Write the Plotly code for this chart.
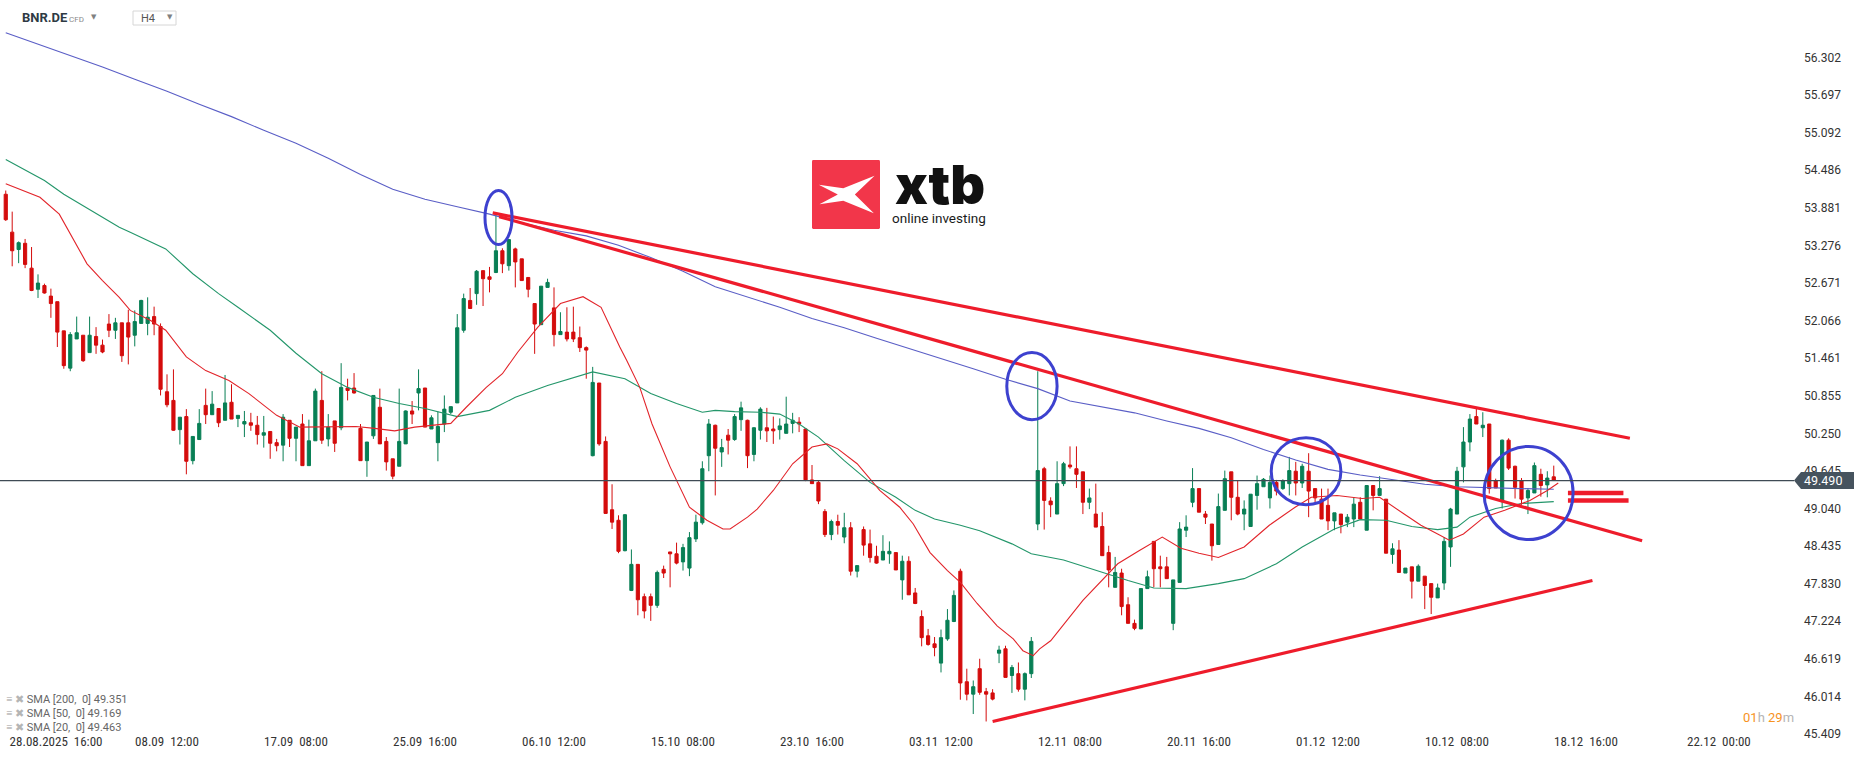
import base64
import plotly.graph_objects as go

# ---- candles (H4), index 0 = 28.08.2025 16:00 ----
candle_index = list(range(-5, 236))

opens = [
    54.10, 53.49, 53.21, 53.31, 52.91, 52.57, 52.63, 52.46, 52.37, 51.90,
    51.30, 51.77, 51.83, 51.55, 51.81, 51.67, 52.01, 51.91, 52.03, 52.03,
    51.83, 52.02, 52.02, 52.13, 51.97, 50.92, 50.78, 50.31, 50.52, 49.81,
    50.15, 50.70, 50.55, 50.65, 50.46, 50.75, 50.49, 50.40, 50.42, 50.38,
    50.22, 50.28, 50.10, 50.06, 50.46, 50.17, 50.40, 49.73, 50.13, 50.78,
    50.16, 50.45, 50.34, 50.98, 50.98, 50.33, 49.81, 50.21, 50.67, 50.12,
    49.84, 49.72, 50.08, 50.61, 50.90, 50.98, 50.32, 50.10, 50.40, 50.59,
    50.74, 51.91, 52.39, 52.50, 52.87, 52.77, 52.84, 53.19, 52.95, 53.22,
    53.06, 52.76, 52.34, 52.00, 52.60, 52.27, 51.84, 51.88, 51.88, 51.79,
    51.63, 49.89, 51.06, 50.12, 49.02, 48.85, 48.36, 47.72, 48.14, 47.62,
    47.62, 47.48, 48.06, 48.34, 48.31, 48.18, 48.08, 48.55, 48.81, 49.89,
    50.38, 49.95, 50.22, 50.15, 50.47, 50.46, 49.91, 50.30, 50.34, 50.32,
    50.31, 50.25, 50.41, 50.43, 50.32, 49.50, 49.46, 48.99, 48.62, 48.83,
    48.58, 48.73, 48.03, 48.70, 48.47, 48.27, 48.21, 48.31, 48.33, 47.89,
    48.19, 47.68, 47.30, 46.99, 46.86, 46.55, 46.94, 47.22, 48.03, 46.25,
    46.05, 46.46, 46.09, 46.07, 46.71, 46.78, 46.35, 46.38, 46.13, 46.38,
    48.79, 49.68, 49.16, 48.95, 49.44, 49.74, 49.68, 49.63, 49.14, 48.95,
    48.75, 48.33, 47.77, 48.00, 47.49, 47.19, 47.10, 47.75, 48.51, 48.10,
    48.10, 47.19, 47.85, 48.69, 49.14, 49.36, 48.95, 48.79, 48.46, 49.01,
    49.63, 49.22, 48.95, 48.75, 49.25, 49.39, 49.21, 49.46, 49.36, 49.44,
    49.64, 49.45, 49.64, 49.36, 49.19, 49.09, 48.84, 48.95, 48.82, 48.87,
    49.14, 48.69, 49.41, 49.25, 49.19, 48.30, 48.37, 48.00, 48.10, 47.87,
    47.95, 47.83, 47.60, 47.84, 48.42, 48.95, 49.71, 50.11, 50.52, 50.34,
    50.40, 49.49, 49.15, 50.14, 49.72, 49.49, 49.21, 49.29, 49.59, 49.42, 49.55,
]
highs = [
    54.16, 53.82, 53.34, 53.38, 53.25, 52.81, 52.66, 52.58, 52.37, 51.90,
    51.88, 52.13, 51.83, 52.13, 51.96, 51.76, 52.17, 52.11, 52.03, 52.24,
    52.23, 52.40, 52.44, 52.29, 52.02, 51.20, 51.28, 50.51, 50.64, 50.20,
    50.64, 50.97, 50.93, 50.65, 51.19, 51.04, 50.54, 50.61, 50.58, 50.53,
    50.53, 50.28, 50.16, 50.56, 50.46, 50.35, 50.56, 50.47, 50.97, 51.25,
    50.56, 50.45, 51.38, 51.13, 51.22, 50.40, 50.11, 50.86, 50.97, 50.19,
    49.84, 50.97, 50.62, 50.77, 51.28, 50.98, 50.54, 50.60, 50.86, 50.68,
    52.17, 52.50, 52.59, 52.88, 52.87, 52.93, 53.78, 53.23, 53.37, 53.24,
    53.06, 52.76, 52.34, 52.62, 52.74, 52.60, 52.20, 52.28, 52.29, 51.97,
    51.65, 51.32, 51.06, 50.20, 49.43, 48.93, 48.95, 48.38, 48.14, 47.67,
    47.67, 48.04, 48.12, 48.34, 48.49, 48.47, 48.66, 48.94, 49.80, 50.48,
    50.39, 50.16, 50.32, 50.56, 50.76, 50.47, 50.35, 50.67, 50.66, 50.52,
    50.49, 50.84, 50.58, 50.51, 50.32, 49.74, 49.49, 49.03, 48.86, 48.94,
    48.97, 48.82, 48.12, 48.75, 48.70, 48.44, 48.61, 48.51, 48.33, 48.28,
    48.27, 47.76, 47.40, 47.10, 46.97, 47.09, 47.42, 47.72, 48.07, 46.46,
    46.27, 46.62, 46.15, 46.13, 46.83, 46.83, 46.52, 46.56, 46.40, 46.97,
    51.25, 49.71, 49.22, 49.80, 49.79, 50.04, 50.04, 49.63, 49.36, 49.44,
    48.98, 48.44, 48.26, 48.07, 47.61, 47.25, 47.75, 48.04, 48.51, 48.28,
    48.26, 47.89, 48.82, 48.93, 49.69, 49.36, 49.00, 48.79, 49.28, 49.65,
    49.63, 49.49, 49.17, 49.27, 49.57, 49.53, 49.57, 49.50, 49.51, 49.87,
    49.79, 49.76, 49.93, 49.36, 49.36, 49.36, 48.97, 48.95, 48.95, 49.22,
    49.22, 49.41, 49.41, 49.56, 49.19, 48.48, 48.53, 48.08, 48.10, 48.14,
    47.95, 47.83, 47.83, 48.58, 49.05, 49.71, 50.35, 50.56, 50.65, 50.59,
    50.40, 49.52, 50.15, 50.17, 49.73, 49.53, 49.37, 49.78, 49.68, 49.64, 49.73,
]
lows = [
    53.67, 52.94, 52.99, 52.91, 52.54, 52.43, 52.50, 52.11, 51.64, 51.29,
    51.25, 51.77, 51.40, 51.55, 51.53, 51.54, 51.80, 51.77, 51.40, 51.36,
    51.65, 52.02, 51.83, 51.83, 50.86, 50.67, 50.29, 50.07, 49.59, 49.75,
    50.15, 50.40, 50.55, 50.35, 50.46, 50.48, 50.35, 50.19, 50.29, 50.07,
    50.02, 49.84, 49.96, 49.80, 50.03, 49.80, 49.73, 49.73, 50.13, 50.08,
    50.04, 49.95, 50.30, 50.78, 50.89, 49.81, 49.55, 50.16, 50.08, 49.65,
    49.51, 49.72, 50.08, 50.40, 50.62, 50.35, 50.32, 49.80, 50.27, 50.56,
    50.74, 51.87, 52.26, 52.32, 52.30, 52.52, 52.83, 52.83, 52.87, 52.60,
    52.71, 52.44, 51.53, 52.00, 52.60, 51.65, 51.84, 51.73, 51.72, 51.56,
    51.13, 49.88, 50.05, 48.96, 48.71, 48.32, 48.35, 47.71, 47.32, 47.27,
    47.23, 47.44, 47.92, 47.77, 48.14, 48.04, 47.95, 48.50, 48.78, 49.64,
    49.25, 49.71, 49.91, 50.13, 50.29, 49.69, 49.80, 50.15, 50.11, 50.08,
    50.15, 50.25, 50.25, 50.27, 49.48, 49.44, 49.11, 48.58, 48.53, 48.62,
    48.48, 47.96, 47.93, 48.28, 48.17, 48.15, 48.21, 48.15, 48.05, 47.57,
    47.65, 47.50, 46.82, 46.83, 46.66, 46.40, 46.91, 47.21, 45.96, 45.95,
    45.73, 46.04, 45.61, 45.95, 46.55, 46.32, 46.07, 46.09, 45.95, 46.31,
    48.69, 48.70, 48.90, 48.95, 49.40, 49.68, 49.37, 48.95, 49.03, 48.74,
    48.28, 47.77, 47.77, 47.32, 47.19, 47.08, 47.10, 47.75, 47.77, 47.77,
    47.91, 47.08, 47.85, 48.58, 49.06, 48.98, 48.79, 48.20, 48.46, 49.01,
    48.85, 48.93, 48.69, 48.75, 49.02, 49.39, 49.04, 49.25, 49.34, 49.25,
    49.25, 49.37, 48.90, 49.14, 48.87, 48.69, 48.69, 48.64, 48.74, 48.74,
    48.87, 48.69, 49.01, 49.25, 48.32, 48.15, 48.01, 48.00, 47.59, 47.87,
    47.42, 47.34, 47.60, 47.73, 48.10, 48.95, 49.46, 49.96, 50.40, 50.19,
    49.28, 49.37, 49.04, 49.66, 49.20, 49.10, 48.95, 49.29, 49.23, 49.22, 49.49,
]
closes = [
    53.69, 53.19, 53.32, 52.97, 52.55, 52.67, 52.51, 52.34, 51.88, 51.34,
    51.84, 51.87, 51.42, 51.83, 51.67, 51.56, 51.91, 52.03, 51.50, 51.80,
    52.05, 52.39, 52.12, 52.01, 50.96, 50.71, 50.30, 50.51, 49.80, 50.20,
    50.41, 50.55, 50.72, 50.42, 50.74, 50.48, 50.54, 50.44, 50.38, 50.23,
    50.26, 50.09, 50.05, 50.51, 50.17, 50.35, 49.73, 50.13, 50.93, 50.14,
    50.35, 50.09, 50.99, 50.94, 50.90, 49.81, 50.11, 50.86, 50.08, 49.79,
    49.56, 50.12, 50.61, 50.56, 50.97, 50.35, 50.50, 50.36, 50.64, 50.68,
    51.95, 52.42, 52.26, 52.86, 52.74, 52.73, 53.19, 52.98, 53.37, 53.01,
    52.71, 52.57, 52.01, 52.62, 52.68, 51.84, 51.89, 51.77, 51.77, 51.63,
    51.59, 51.07, 50.08, 48.96, 48.82, 48.35, 48.94, 48.14, 47.57, 47.39,
    47.48, 48.01, 48.00, 48.31, 48.16, 48.41, 48.57, 48.82, 49.68, 50.40,
    50.01, 50.02, 50.14, 50.52, 50.66, 49.89, 50.34, 50.64, 50.29, 50.29,
    50.37, 50.40, 50.46, 50.40, 49.50, 49.44, 49.16, 48.62, 48.83, 48.77,
    48.73, 48.03, 48.12, 48.45, 48.25, 48.16, 48.35, 48.35, 48.05, 48.19,
    47.65, 47.51, 46.96, 46.85, 46.80, 46.96, 47.24, 47.64, 46.23, 46.05,
    46.17, 46.08, 46.05, 45.97, 46.76, 46.32, 46.48, 46.13, 46.38, 46.90,
    49.65, 49.17, 49.10, 49.44, 49.76, 49.71, 49.59, 49.14, 49.21, 48.74,
    48.28, 48.05, 48.01, 47.46, 47.19, 47.11, 47.75, 47.94, 48.07, 48.07,
    47.91, 47.89, 48.71, 48.74, 49.36, 48.98, 48.90, 48.44, 49.07, 49.52,
    49.22, 48.95, 49.03, 49.27, 49.44, 49.51, 49.46, 49.32, 49.49, 49.65,
    49.45, 49.72, 49.32, 49.21, 48.87, 48.84, 48.97, 48.78, 48.90, 49.11,
    48.87, 49.41, 49.25, 49.36, 48.32, 48.39, 48.01, 48.08, 47.87, 48.11,
    47.80, 47.61, 47.76, 48.51, 49.03, 49.64, 50.11, 50.48, 50.40, 50.38,
    49.36, 49.37, 50.14, 49.69, 49.38, 49.19, 49.33, 49.73, 49.41, 49.53, 49.49,
]

# ---- moving averages ----
sma200_x = [-5, 0, 5, 10, 15, 20, 25, 30, 35, 40, 45, 50, 55, 60, 65, 70, 75, 80, 85, 90,
            95, 100, 105, 110, 115, 120, 125, 130, 135, 140, 145, 150, 155, 160, 165, 170,
            175, 180, 185, 190, 195, 200, 205, 210, 215, 220, 225, 230, 235]
sma200_y = [56.70, 56.52, 56.33, 56.15, 55.95, 55.76, 55.55, 55.35, 55.13, 54.92, 54.68,
            54.42, 54.18, 54.02, 53.90, 53.78, 53.64, 53.52, 53.43, 53.28, 53.08, 52.86,
            52.61, 52.45, 52.28, 52.10, 51.95, 51.78, 51.62, 51.46, 51.29, 51.12, 50.97,
            50.77, 50.68, 50.58, 50.45, 50.33, 50.18, 49.99, 49.82, 49.67, 49.58, 49.50,
            49.43, 49.39, 49.37, 49.36, 49.35]

sma50_x = [-5, 1, 4, 12.6, 14.3, 19.8, 24, 28, 31, 36, 40, 44, 48, 52, 56, 60, 65, 70, 74,
           79, 86, 91, 95, 99, 103, 105, 108, 112, 115, 118, 121, 125, 129, 133, 136, 139,
           143, 146, 151, 154, 159, 165, 169, 173, 178, 183, 187, 192, 196, 201, 205, 209,
           213, 217, 220, 222, 226, 230, 235]
sma50_y = [54.66, 54.32, 54.10, 53.57, 53.49, 53.22, 52.82, 52.50, 52.28, 51.91, 51.54,
           51.21, 50.99, 50.83, 50.73, 50.65, 50.52, 50.62, 50.83, 51.02, 51.24, 51.13,
           50.89, 50.73, 50.59, 50.62, 50.60, 50.59, 50.56, 50.40, 50.19, 49.81, 49.46,
           49.22, 49.01, 48.87, 48.77, 48.68, 48.47, 48.31, 48.21, 48.01, 47.88, 47.76,
           47.75, 47.83, 47.91, 48.15, 48.42, 48.71, 48.86, 48.85, 48.75, 48.70, 48.74,
           48.90, 49.04, 49.12, 49.15]

sma20_x = [-5, 0.3, 3.3, 7.6, 10, 12.6, 14.3, 17.4, 19.8, 23, 26, 29.6, 32.7, 37, 40.6, 45,
           49.3, 52.2, 55.3, 58.4, 61.6, 64, 66.4, 69.5, 72, 74.4, 77.5, 81, 84.5, 87.3,
           90.2, 91.3, 93.3, 95.2, 98, 101, 103.7, 106.2, 107.3, 110, 111.5, 114, 117, 120,
           122.3, 124, 127, 130.5, 133.6, 135.7, 138.3, 141, 143, 145.6, 148.7, 151.2,
           152.7, 154.3, 155.3, 157, 162, 167.4, 170.7, 174.3, 177.2, 180, 183, 187, 190.9,
           194.9, 197.4, 201.4, 205.3, 208, 211.8, 214.4, 217, 218.8, 221, 224.2, 227.4,
           231.3, 234, 235.7]
sma20_y = [54.27, 54.05, 53.78, 52.98, 52.71, 52.44, 52.23, 52.07, 51.91, 51.48, 51.26,
           51.10, 50.89, 50.54, 50.35, 50.36, 50.36, 50.33, 50.29, 50.35, 50.38, 50.41,
           50.67, 50.99, 51.21, 51.56, 51.96, 52.34, 52.45, 52.28, 51.64, 51.42, 50.99,
           50.40, 49.71, 49.06, 48.85, 48.71, 48.71, 48.90, 49.03, 49.33, 49.76, 50.03,
           50.08, 50.00, 49.76, 49.33, 49.06, 48.79, 48.33, 48.04, 47.85, 47.51, 47.15,
           46.94, 46.75, 46.67, 46.78, 46.91, 47.56, 48.15, 48.36, 48.58, 48.40, 48.32,
           48.25, 48.42, 48.77, 49.06, 49.22, 49.25, 49.20, 49.22, 48.95, 48.77, 48.63,
           48.53, 48.63, 48.90, 49.01, 49.17, 49.33, 49.45]

sma_labels = ["SMA [200,  0] 49.351", "SMA [50,  0] 49.169", "SMA [20,  0] 49.463"]

# ---- hand-drawn trend lines, marks and circles (index, price) ----
upper_line_x = [70.5, 246.8]
upper_line_y = [53.80, 50.17]
mid_line_x = [71.5, 248.7]
mid_line_y = [53.74, 48.52]
support_line_x = [148, 241]
support_line_y = [45.61, 47.88]
mark1_x = [237.2, 245.8]
mark1_y = [49.29, 49.29]
mark2_x = [237.2, 246.6]
mark2_y = [49.17, 49.17]
circles_x = [(69.3, 73.5), (150.2, 158.0), (191.2, 202.0), (224.2, 238.0)]
circles_y = [(53.29, 54.16), (50.47, 51.55), (49.10, 50.18), (48.54, 50.04)]

last_price = 49.490

# ---- axes ----
price_ticks = [56.302, 55.697, 55.092, 54.486, 53.881, 53.276, 52.671, 52.066, 51.461,
               50.855, 50.250, 49.645, 49.040, 48.435, 47.830, 47.224, 46.619, 46.014, 45.409]
time_tick_pos = [2.8, 20, 40, 60, 80, 100, 120, 140, 160, 180, 200, 220, 240, 260.6]
time_tick_text = ["28.08.2025  16:00", "08.09  12:00", "17.09  08:00", "25.09  16:00",
                  "06.10  12:00", "15.10  08:00", "23.10  16:00", "03.11  12:00",
                  "12.11  08:00", "20.11  16:00", "01.12  12:00", "10.12  08:00",
                  "18.12  16:00", "22.12  00:00"]

GREEN = "#087f55"
RED = "#d40c0c"
TREND = "#ee1c2b"
CIRCLE = "#3d41cf"
W, H = 1866, 761
X_RANGE = [-5.891, 283.41]


def px(x):
    return x / W


def py(y):
    return 1 - y / H


fig = go.Figure()

fig.add_trace(go.Candlestick(
    x=candle_index, open=opens, high=highs, low=lows, close=closes,
    increasing=dict(line=dict(color=GREEN, width=1), fillcolor=GREEN),
    decreasing=dict(line=dict(color=RED, width=1), fillcolor=RED),
    whiskerwidth=0, hoverinfo='skip', showlegend=False,
))

for xs, ys, col in [(sma200_x, sma200_y, '#5a5ec6'),
                    (sma50_x, sma50_y, '#23966a'),
                    (sma20_x, sma20_y, '#e2242a')]:
    fig.add_trace(go.Scatter(x=xs, y=ys, mode='lines', line=dict(color=col, width=1.1),
                             hoverinfo='skip', showlegend=False))

for xs, ys, wd in [(upper_line_x, upper_line_y, 3.2), (mid_line_x, mid_line_y, 3.2),
                   (support_line_x, support_line_y, 3.2)]:
    fig.add_trace(go.Scatter(x=xs, y=ys, mode='lines', line=dict(color=TREND, width=wd),
                             hoverinfo='skip', showlegend=False))
# the "=" marks sit on the second (label-carrying) x axis, same range
for xs, ys in [(mark1_x, mark1_y), (mark2_x, mark2_y)]:
    fig.add_trace(go.Scatter(x=xs, y=ys, mode='lines', line=dict(color=TREND, width=4.5),
                             xaxis='x2', hoverinfo='skip', showlegend=False))

shapes = []
for (x0, x1), (y0, y1) in zip(circles_x, circles_y):
    shapes.append(dict(type='circle', xref='x', yref='y', x0=x0, x1=x1, y0=y0, y1=y1,
                       line=dict(color=CIRCLE, width=3), layer='above'))

# current price line and label box
shapes.append(dict(type='line', xref='paper', yref='y', x0=0, x1=px(1794),
                   y0=last_price, y1=last_price, line=dict(color='#3f4b55', width=1.2)))
shapes.append(dict(type='path', xref='paper', yref='y', xsizemode='pixel', ysizemode='pixel',
                   xanchor=px(1794), yanchor=last_price,
                   path='M 0 0 L 7 8.5 L 60 8.5 L 60 -8.5 L 7 -8.5 Z',
                   fillcolor='#46535e', line=dict(width=0), layer='above'))
# H4 selector box
shapes.append(dict(type='rect', xref='paper', yref='paper', x0=px(133), x1=px(176),
                   y0=py(25), y1=py(11), line=dict(color='#d6d6d6', width=1),
                   fillcolor='white', layer='above'))

ann = []
ann.append(dict(x=px(1844), y=last_price, xref='paper', yref='y', xanchor='right',
                yanchor='middle', text=f"{last_price:.3f}", showarrow=False,
                font=dict(family='Roboto', size=12.5, color='white')))
ann.append(dict(x=px(20), y=py(18), xref='paper', yref='paper', xanchor='left', yanchor='middle',
                text='<b>BNR.DE</b>', showarrow=False,
                font=dict(family='Roboto', size=13, color='#2e3a44')))
ann.append(dict(x=px(67), y=py(19), xref='paper', yref='paper', xanchor='left', yanchor='middle',
                text='CFD', showarrow=False, font=dict(family='Roboto', size=8, color='#8a8a8a')))
ann.append(dict(x=px(93.5), y=py(17), xref='paper', yref='paper', xanchor='center',
                yanchor='middle', text='▼', showarrow=False,
                font=dict(family='DejaVu Sans', size=7, color='#808080')))
ann.append(dict(x=px(139), y=py(18.5), xref='paper', yref='paper', xanchor='left',
                yanchor='middle', text='H4', showarrow=False,
                font=dict(family='Roboto', size=11, color='#555555')))
ann.append(dict(x=px(169.5), y=py(17.5), xref='paper', yref='paper', xanchor='center',
                yanchor='middle', text='▼', showarrow=False,
                font=dict(family='DejaVu Sans', size=7, color='#808080')))

# logo text
ann.append(dict(x=px(940), y=py(184), xref='paper', yref='paper', xanchor='center',
                yanchor='middle', text='xtb', showarrow=False,
                font=dict(family='Inter, Open Sans', size=54, color='#111111', weight=900)))
ann.append(dict(x=px(890), y=py(218), xref='paper', yref='paper', xanchor='left',
                yanchor='middle', text='online investing', showarrow=False,
                font=dict(family='Roboto', size=13.5, color='#1b1b1b')))

# SMA legend
for i, lab in enumerate(sma_labels):
    yy = 699 + i * 14.2
    ann.append(dict(x=px(4), y=py(yy), xref='paper', yref='paper', xanchor='left',
                    yanchor='middle', showarrow=False,
                    text='<span style="color:#9a9a9a">≡</span> <span style="color:#b5b5b5">✖</span> '
                         f'<span style="color:#666666">{lab}</span>',
                    font=dict(family='Roboto', size=11, color='#666666')))

# candle timer
ann.append(dict(x=px(1768), y=py(717), xref='paper', yref='paper', xanchor='center',
                yanchor='middle', showarrow=False,
                text='<span style="color:#f7931e">01</span><span style="color:#b5b5b5">h</span> '
                     '<span style="color:#f7931e">29</span><span style="color:#b5b5b5">m</span>',
                font=dict(family='Roboto', size=13)))

logo_svg = ("<svg xmlns='http://www.w3.org/2000/svg' width='100' height='100' viewBox='0 0 100 100'>"
            "<rect width='100' height='100' rx='2' fill='#f2364a'/>"
            "<polygon points='10,36 46,41 92,23 63,50 91,77 46,59 11,64 38,50' fill='white'/>"
            "</svg>")
logo_src = "data:image/svg+xml;base64," + base64.b64encode(logo_svg.encode()).decode()

fig.update_layout(
    width=W, height=H,
    margin=dict(l=0, r=0, t=0, b=0),
    paper_bgcolor='white', plot_bgcolor='white',
    showlegend=False,
    shapes=shapes,
    annotations=ann,
    images=[dict(source=logo_src, xref='paper', yref='paper', x=px(812), y=py(160),
                 sizex=68 / W, sizey=69 / H, xanchor='left', yanchor='top',
                 sizing='stretch', layer='above')],
    xaxis=dict(range=X_RANGE, showticklabels=False,
               showgrid=False, zeroline=False, showline=False, ticks='',
               rangeslider=dict(visible=False), automargin=False),
    xaxis2=dict(range=X_RANGE, overlaying='x', anchor='y', side='bottom',
                tickvals=time_tick_pos,
                ticktext=[t.replace('  ', '\u00a0\u00a0') for t in time_tick_text],
                showgrid=False, zeroline=False, showline=False, ticks='',
                ticklabelposition='inside', ticklabelstandoff=9, automargin=False,
                tickfont=dict(family='Liberation Sans Narrow, Arial Narrow, Roboto Condensed, Roboto',
                              size=13, color='#333333')),
    yaxis=dict(side='right', range=[44.9736, 57.228], tickvals=price_ticks,
               ticktext=[f"{v:.3f}" for v in price_ticks],
               showgrid=False, zeroline=False, showline=False, ticks='',
               ticklabelposition='inside', ticklabelstandoff=22, automargin=False,
               tickfont=dict(family='Roboto', size=12, color='#333333')),
)

fig.write_html("out.html", config={'displayModeBar': False},
               post_script="document.body.style.margin='0';document.body.style.overflow='hidden';")
